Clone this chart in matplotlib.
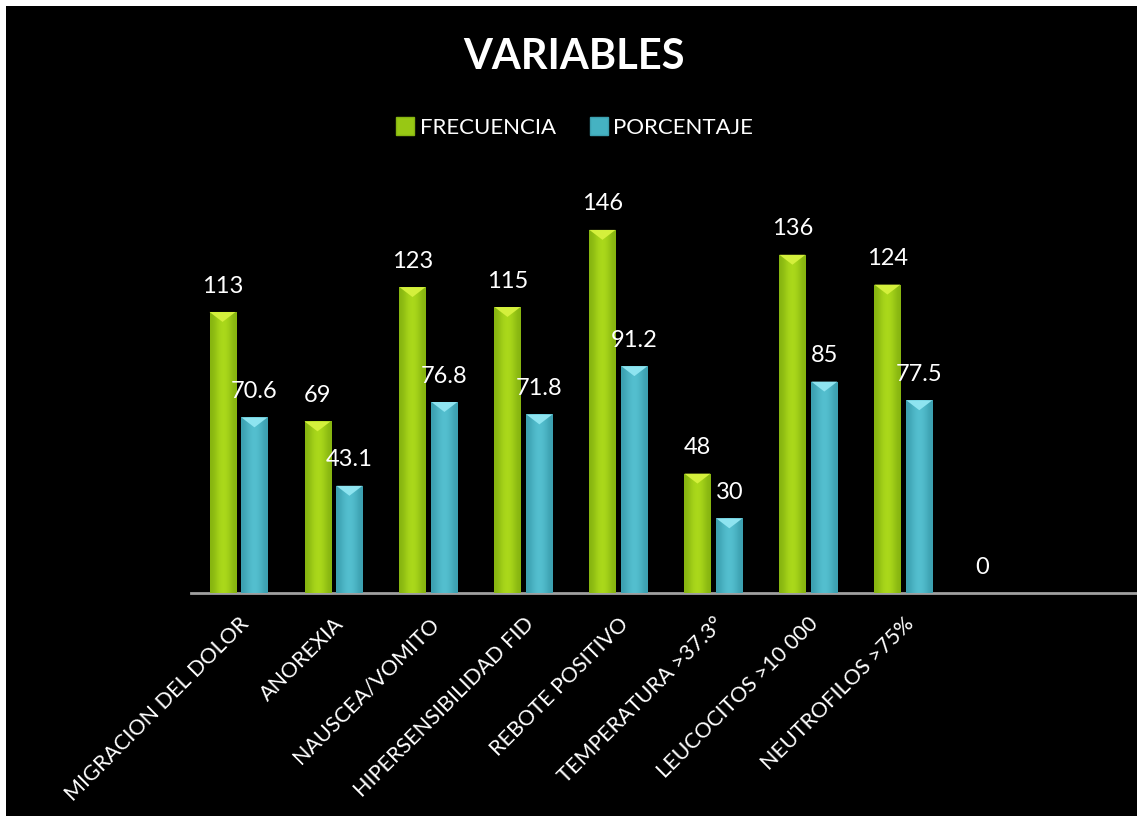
import numpy as np
import matplotlib as mpl
mpl.use('Agg')
import matplotlib.pyplot as plt
from matplotlib.patches import Rectangle, Polygon
from matplotlib.lines import Line2D

categories = ["MIGRACION DEL DOLOR", "ANOREXIA", "NAUSCEA/VOMITO",
              "HIPERSENSIBILIDAD FID", "REBOTE POSITIVO", "TEMPERATURA >37.3°",
              "LEUCOCITOS >10 000", "NEUTROFILOS >75%", ""]
frecuencia = [113, 69, 123, 115, 146, 48, 136, 124, 0]
porcentaje = [70.6, 43.1, 76.8, 71.8, 91.2, 30, 85, 77.5, np.nan]
freq_labels = ["113", "69", "123", "115", "146", "48", "136", "124", "0"]
pct_labels = ["70.6", "43.1", "76.8", "71.8", "91.2", "30", "85", "77.5", ""]

green = "#98c814"
green_dark = "#86b410"
green_light = "#aedc1c"
cyan = "#45b2c2"
cyan_dark = "#3ca0b0"
cyan_light = "#56c2d2"

plt.rcParams['font.family'] = ['Lato', 'DejaVu Sans']

fig = plt.figure(figsize=(11.37, 8.16), dpi=100, facecolor="white")
fig.patches.append(Rectangle((6 / 1137, 0), 1, 1 - 6 / 816, transform=fig.transFigure,
                             facecolor="black", edgecolor="none", zorder=-10))

ax = fig.add_axes([191 / 1137, (816 - 593) / 816, 946 / 1137, 413 / 816])
ax.set_facecolor("none")

x = np.arange(len(categories))
w = 0.274
off = 0.168


def gradient_bars(xs, vals, base, dark, light, top):
    bars = ax.bar(xs, vals, w, color=base, zorder=2)
    grad = np.array([[0.0, 0.7, 1.0, 0.7, 0.0]])
    cmap = mpl.colors.LinearSegmentedColormap.from_list("g", [dark, light])
    for b, v in zip(bars, vals):
        if not np.isfinite(v) or v <= 0:
            continue
        x0 = b.get_x()
        im = ax.imshow(grad, extent=(x0, x0 + w, 0, v), cmap=cmap, aspect="auto",
                       interpolation="bicubic", zorder=3)
        im.set_clip_path(b)
        tip = 4.0
        ax.add_patch(Polygon([(x0, v), (x0 + w, v), (x0 + w / 2, v - tip)],
                             closed=True, facecolor=top, edgecolor="none", zorder=4))
    return bars


gradient_bars(x - off, frecuencia, green, green_dark, green_light, "#d4f03c")
gradient_bars(x + off, porcentaje, cyan, cyan_dark, cyan_light, "#8ee4f0")

for xi, v, s in zip(x - off, frecuencia, freq_labels):
    ax.annotate(s, (xi, v), xytext=(0, 14), textcoords="offset points",
                ha="center", va="baseline", color="white", fontsize=17)
for xi, v, s in zip(x + off, porcentaje, pct_labels):
    if s:
        ax.annotate(s, (xi, v), xytext=(0, 14), textcoords="offset points",
                    ha="center", va="baseline", color="white", fontsize=17)

ax.set_xlim(-0.5, 9.46)
ax.set_ylim(0, 413 / 2.487)
ax.set_yticks([])
ax.set_xticks(x)
ax.set_xticklabels(categories, rotation=45, ha="right", va="top",
                   rotation_mode="anchor", color="white", fontsize=15.5)
ax.tick_params(axis="x", length=0, pad=15)
for s in ["top", "right", "left"]:
    ax.spines[s].set_visible(False)
ax.spines["bottom"].set_color("#a0a0a0")
ax.spines["bottom"].set_linewidth(2)

fig.text(0.505, 1 - 57 / 816, "VARIABLES", ha="center", va="center",
         color="white", fontsize=30, fontweight="bold")

handles = [Line2D([], [], marker="s", linestyle="none", markersize=12.5,
                  markerfacecolor=green, markeredgecolor=green_dark),
           Line2D([], [], marker="s", linestyle="none", markersize=12.5,
                  markerfacecolor=cyan, markeredgecolor=cyan_dark)]
leg = fig.legend(handles, ["FRECUENCIA", "PORCENTAJE"], loc="center",
                 bbox_to_anchor=(0.505, 1 - 128 / 816), ncol=2, frameon=False,
                 fontsize=16, handletextpad=0.2, columnspacing=1.5, handlelength=0.9)
for t in leg.get_texts():
    t.set_color("white")

fig.savefig("out.png", dpi=100, facecolor=fig.get_facecolor())
